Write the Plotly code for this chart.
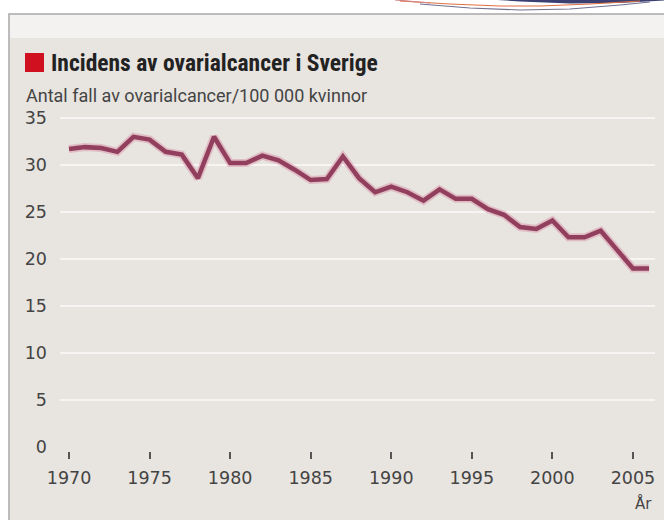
import plotly.graph_objects as go

years = list(range(1970, 2007))
incidence = [31.7, 31.9, 31.8, 31.4, 33.0, 32.7, 31.4, 31.1, 28.6, 33.0,
             30.2, 30.2, 31.0, 30.5, 29.5, 28.4, 28.5, 30.9, 28.6, 27.1,
             27.7, 27.1, 26.2, 27.4, 26.4, 26.4, 25.3, 24.7, 23.4, 23.2,
             24.1, 22.3, 22.3, 23.0, 21.0, 19.0, 19.0]
x_ticks = [1970, 1975, 1980, 1985, 1990, 1995, 2000, 2005]
y_ticks = [0, 5, 10, 15, 20, 25, 30, 35]
grid_vals = [5, 10, 15, 20, 25, 30, 35]

title_text = "Incidens av ovarialcancer i Sverige"
subtitle_text = "Antal fall av ovarialcancer/100 000 kvinnor"
x_title = "År"

W, H = 664, 520
def px(x):
    return x / W
def py(y):
    return 1 - y / H

FONT_T = "Liberation Sans Narrow, Roboto Condensed, Arial Narrow, sans-serif"
FONT = "Roboto, Liberation Sans, sans-serif"
FONT_TICK = "DejaVu Sans, Verdana, sans-serif"
LINE = "#913f5d"
BG = "#e8e4e0"

fig = go.Figure()
fig.add_trace(go.Scatter(x=years, y=incidence, mode="lines",
                         line=dict(color="rgba(215,140,165,0.45)", width=8),
                         hoverinfo="skip", showlegend=False))
fig.add_trace(go.Scatter(x=years, y=incidence, mode="lines",
                         line=dict(color=LINE, width=4.5), showlegend=False))

shapes = []
# panel
shapes.append(dict(type="rect", xref="paper", yref="paper",
                   x0=px(9), x1=1.01, y0=-0.01, y1=py(14),
                   fillcolor="#f4f2f0", line=dict(color="#a8a8a8", width=1.5), layer="below"))
shapes.append(dict(type="rect", xref="paper", yref="paper",
                   x0=px(10), x1=1.01, y0=-0.01, y1=py(38),
                   fillcolor=BG, line=dict(width=0), layer="below"))
# gridlines
for g in grid_vals:
    shapes.append(dict(type="line", xref="paper", yref="y",
                       x0=px(60), x1=px(655), y0=g, y1=g,
                       line=dict(color="#f7f5f3", width=2), layer="below"))
# red square
shapes.append(dict(type="rect", xref="paper", yref="paper",
                   x0=px(25), x1=px(44), y0=py(72), y1=py(53),
                   fillcolor="#d0101e", line=dict(width=0)))
# decorative swoosh at top right
def pth(pts, close=False):
    s = "M " + " L ".join(f"{px(a):.4f},{py(b):.4f}" for a, b in pts)
    return s + (" Z" if close else "")
shapes.append(dict(type="path", xref="paper", yref="paper",
                   path=pth([(482, -1), (520, 1.5), (570, 3.5), (620, 3), (664, 0.5), (664, -1)], True),
                   fillcolor="#3b3f72", line=dict(width=0)))
shapes.append(dict(type="path", xref="paper", yref="paper",
                   path=pth([(400, 1), (450, 4), (500, 6), (540, 6), (590, 4), (640, 1)]),
                   line=dict(color="#e07040", width=1.2)))
shapes.append(dict(type="path", xref="paper", yref="paper",
                   path=pth([(420, 4), (470, 8), (520, 10), (570, 9), (620, 5), (650, 2)]),
                   line=dict(color="#707090", width=1.2)))
shapes.append(dict(type="path", xref="paper", yref="paper",
                   path=pth([(395, 0), (430, 3)]),
                   line=dict(color="#d08080", width=1.2)))

annotations = [
    dict(text=f"<b>{title_text}</b>", xref="paper", yref="paper", x=px(49), y=py(63),
         xanchor="left", yanchor="middle", showarrow=False,
         font=dict(family=FONT_T, size=23.5, color="#222222")),
    dict(text=subtitle_text, xref="paper", yref="paper", x=px(24), y=py(95),
         xanchor="left", yanchor="middle", showarrow=False,
         font=dict(family=FONT, size=18, color="#444444")),
    dict(text=x_title, xref="paper", yref="paper", x=px(654), y=py(503),
         xanchor="right", yanchor="middle", showarrow=False,
         font=dict(family=FONT_TICK, size=15, color="#444444")),
]

fig.update_layout(
    width=W, height=H,
    margin=dict(l=0, r=0, t=0, b=0),
    paper_bgcolor="white", plot_bgcolor="rgba(0,0,0,0)",
    shapes=shapes, annotations=annotations,
    xaxis=dict(domain=[px(60), px(655)], range=[1969.44, 2006.37], automargin=False,
               tickvals=x_ticks, ticks="outside", ticklen=7, tickwidth=1.5,
               tickcolor="#555555", showgrid=False, zeroline=False, showline=False,
               ticklabelstandoff=4,
               tickfont=dict(family=FONT_TICK, size=17.5, color="#444444")),
    yaxis=dict(domain=[py(451), py(110)], range=[-0.426, 35.85], automargin=False,
               tickvals=y_ticks, ticks="", showgrid=False, zeroline=False,
               showline=False, ticklabelstandoff=12,
               tickfont=dict(family=FONT_TICK, size=17.5, color="#444444")),
)

fig.write_html("out.html", config={"displayModeBar": False},
               post_script="document.body.style.margin='0';document.body.style.overflow='hidden';")
